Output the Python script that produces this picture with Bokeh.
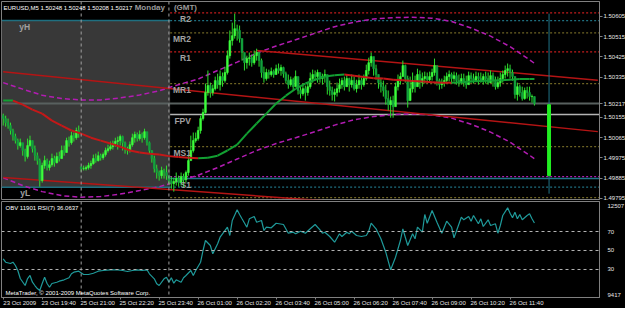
from bokeh.plotting import figure
from bokeh.layouts import column
from bokeh.models import (Range1d, FixedTicker, PrintfTickFormatter, Label, ColumnDataSource, Span,
                          LinearAxis)
from bokeh.embed import file_html
from bokeh.resources import INLINE
from bokeh.core.properties import value

# ---------------- data ----------------
symbol = "EURUSD,M5"
last_ohlc = [1.50248, 1.50248, 1.50208, 1.50217]
weekday_text = "Monday"
tz_text = "(GMT)"

closes = [
    1.50150, 1.50132, 1.50119, 1.50097, 1.50070, 1.50052, 1.50030, 1.50043, 1.50008, 1.49981,
    1.50030, 1.50052, 1.50016, 1.49985, 1.49963, 1.49874, 1.49941, 1.49963, 1.49932, 1.49945,
    1.49972, 1.49954, 1.49981, 1.49972, 1.50008, 1.49999, 1.50052, 1.50043, 1.50074, 1.50065,
    1.50097, 1.50083, 1.49927, 1.49927, 1.49932, 1.49941, 1.49950, 1.49972, 1.49963, 1.49985,
    1.49976, 1.49990, 1.50008, 1.50016, 1.50025, 1.50039, 1.50048, 1.50052, 1.50070, 1.50043,
    1.50016, 1.50008, 1.50034, 1.50065, 1.50079, 1.50061, 1.50079, 1.50065, 1.50092, 1.50043,
    1.50008, 1.49972, 1.49927, 1.49910, 1.49896, 1.49919, 1.49910, 1.49896, 1.49874, 1.49861,
    1.49870, 1.49883, 1.49865, 1.49892, 1.49878, 1.49910, 1.49963, 1.50008, 1.50052, 1.50061,
    1.50097, 1.50150, 1.50177, 1.50266, 1.50297, 1.50266, 1.50283, 1.50319, 1.50301, 1.50337,
    1.50319, 1.50355, 1.50430, 1.50497, 1.50519, 1.50550, 1.50542, 1.50506, 1.50444, 1.50399,
    1.50417, 1.50421, 1.50399, 1.50430, 1.50444, 1.50408, 1.50355, 1.50328, 1.50355, 1.50346,
    1.50359, 1.50346, 1.50372, 1.50364, 1.50377, 1.50350, 1.50319, 1.50301, 1.50323, 1.50292,
    1.50337, 1.50275, 1.50261, 1.50283, 1.50266, 1.50292, 1.50328, 1.50346, 1.50337, 1.50355,
    1.50328, 1.50337, 1.50346, 1.50292, 1.50275, 1.50257, 1.50266, 1.50283, 1.50301, 1.50319,
    1.50292, 1.50328, 1.50301, 1.50319, 1.50283, 1.50301, 1.50319, 1.50301, 1.50328, 1.50364,
    1.50399, 1.50426, 1.50372, 1.50346, 1.50310, 1.50292, 1.50275, 1.50239, 1.50212, 1.50230,
    1.50203, 1.50292, 1.50319, 1.50337, 1.50386, 1.50328, 1.50230, 1.50283, 1.50319, 1.50292,
    1.50346, 1.50310, 1.50328, 1.50337, 1.50323, 1.50337, 1.50355, 1.50386, 1.50319, 1.50301,
    1.50310, 1.50319, 1.50337, 1.50346, 1.50328, 1.50341, 1.50319, 1.50310, 1.50328, 1.50310,
    1.50301, 1.50341, 1.50328, 1.50319, 1.50337, 1.50328, 1.50319, 1.50337, 1.50328, 1.50310,
    1.50341, 1.50319, 1.50292, 1.50310, 1.50328, 1.50346, 1.50364, 1.50372, 1.50355, 1.50337,
    1.50257, 1.50292, 1.50266, 1.50239, 1.50275, 1.50266, 1.50248, 1.50248, 1.50217,
]
highs = [
    1.50172, 1.50163, 1.50150, 1.50132, 1.50105, 1.50083, 1.50061, 1.50061, 1.50039, 1.50016,
    1.50061, 1.50074, 1.50052, 1.50030, 1.49999, 1.49972, 1.49954, 1.49985, 1.49972, 1.49963,
    1.49994, 1.49985, 1.49999, 1.50003, 1.50030, 1.50030, 1.50065, 1.50070, 1.50092, 1.50088,
    1.50110, 1.50119, 1.49936, 1.49941, 1.49941, 1.49954, 1.49963, 1.49990, 1.49994, 1.50003,
    1.49994, 1.49999, 1.50021, 1.50034, 1.50048, 1.50052, 1.50065, 1.50070, 1.50079, 1.50074,
    1.50048, 1.50025, 1.50048, 1.50083, 1.50092, 1.50088, 1.50097, 1.50088, 1.50105, 1.50083,
    1.50048, 1.50008, 1.49985, 1.49945, 1.49919, 1.49936, 1.49927, 1.49941, 1.49896, 1.49892,
    1.49887, 1.49910, 1.49896, 1.49910, 1.49905, 1.49919, 1.49985, 1.50074, 1.50088, 1.50088,
    1.50114, 1.50163, 1.50194, 1.50306, 1.50364, 1.50310, 1.50301, 1.50337, 1.50350, 1.50364,
    1.50355, 1.50381, 1.50453, 1.50542, 1.50577, 1.50617, 1.50568, 1.50564, 1.50506, 1.50430,
    1.50430, 1.50444, 1.50435, 1.50453, 1.50461, 1.50444, 1.50417, 1.50381, 1.50372, 1.50368,
    1.50377, 1.50368, 1.50390, 1.50395, 1.50390, 1.50381, 1.50359, 1.50346, 1.50337, 1.50332,
    1.50364, 1.50323, 1.50292, 1.50306, 1.50297, 1.50310, 1.50355, 1.50368, 1.50364, 1.50368,
    1.50355, 1.50350, 1.50368, 1.50341, 1.50319, 1.50292, 1.50283, 1.50310, 1.50328, 1.50332,
    1.50337, 1.50346, 1.50332, 1.50346, 1.50337, 1.50323, 1.50346, 1.50332, 1.50346, 1.50390,
    1.50421, 1.50444, 1.50417, 1.50390, 1.50346, 1.50332, 1.50319, 1.50301, 1.50275, 1.50248,
    1.50252, 1.50310, 1.50346, 1.50355, 1.50408, 1.50390, 1.50341, 1.50337, 1.50355, 1.50341,
    1.50372, 1.50364, 1.50355, 1.50359, 1.50355, 1.50359, 1.50372, 1.50417, 1.50364, 1.50328,
    1.50328, 1.50341, 1.50355, 1.50364, 1.50355, 1.50359, 1.50355, 1.50346, 1.50350, 1.50350,
    1.50341, 1.50359, 1.50355, 1.50350, 1.50359, 1.50355, 1.50355, 1.50350, 1.50359, 1.50355,
    1.50364, 1.50355, 1.50337, 1.50337, 1.50355, 1.50364, 1.50386, 1.50395, 1.50390, 1.50368,
    1.50337, 1.50310, 1.50301, 1.50292, 1.50288, 1.50292, 1.50292, 1.50257, 1.50248,
]
lows = [
    1.50119, 1.50114, 1.50105, 1.50079, 1.50052, 1.50039, 1.50012, 1.50021, 1.49985, 1.49959,
    1.49972, 1.50025, 1.49999, 1.49963, 1.49945, 1.49847, 1.49865, 1.49927, 1.49919, 1.49919,
    1.49936, 1.49936, 1.49950, 1.49959, 1.49972, 1.49985, 1.49999, 1.50025, 1.50034, 1.50048,
    1.50056, 1.50065, 1.49914, 1.49919, 1.49919, 1.49923, 1.49927, 1.49945, 1.49954, 1.49959,
    1.49963, 1.49967, 1.49981, 1.49999, 1.50008, 1.50012, 1.50025, 1.50012, 1.50030, 1.50008,
    1.49994, 1.49990, 1.49999, 1.50025, 1.50043, 1.50048, 1.50052, 1.50043, 1.50056, 1.50030,
    1.49994, 1.49954, 1.49910, 1.49883, 1.49874, 1.49883, 1.49883, 1.49878, 1.49856, 1.49838,
    1.49825, 1.49852, 1.49847, 1.49852, 1.49843, 1.49865, 1.49896, 1.49963, 1.49999, 1.50043,
    1.50052, 1.50083, 1.50141, 1.50172, 1.50252, 1.50243, 1.50252, 1.50275, 1.50283, 1.50275,
    1.50292, 1.50310, 1.50346, 1.50417, 1.50475, 1.50506, 1.50497, 1.50488, 1.50408, 1.50364,
    1.50372, 1.50386, 1.50381, 1.50390, 1.50408, 1.50381, 1.50332, 1.50310, 1.50319, 1.50328,
    1.50337, 1.50332, 1.50346, 1.50350, 1.50341, 1.50332, 1.50306, 1.50283, 1.50292, 1.50275,
    1.50301, 1.50257, 1.50239, 1.50252, 1.50230, 1.50252, 1.50283, 1.50310, 1.50319, 1.50310,
    1.50310, 1.50301, 1.50310, 1.50257, 1.50252, 1.50230, 1.50226, 1.50248, 1.50266, 1.50283,
    1.50275, 1.50292, 1.50270, 1.50288, 1.50275, 1.50266, 1.50283, 1.50279, 1.50292, 1.50319,
    1.50346, 1.50381, 1.50341, 1.50323, 1.50283, 1.50266, 1.50248, 1.50212, 1.50186, 1.50154,
    1.50154, 1.50230, 1.50275, 1.50301, 1.50337, 1.50310, 1.50199, 1.50230, 1.50266, 1.50266,
    1.50292, 1.50283, 1.50292, 1.50306, 1.50310, 1.50315, 1.50319, 1.50341, 1.50297, 1.50279,
    1.50283, 1.50292, 1.50306, 1.50315, 1.50306, 1.50315, 1.50301, 1.50292, 1.50301, 1.50292,
    1.50283, 1.50310, 1.50310, 1.50306, 1.50315, 1.50301, 1.50310, 1.50301, 1.50306, 1.50301,
    1.50310, 1.50292, 1.50279, 1.50283, 1.50292, 1.50310, 1.50328, 1.50337, 1.50328, 1.50319,
    1.50239, 1.50230, 1.50248, 1.50230, 1.50234, 1.50239, 1.50230, 1.50221, 1.50208,
]
first_open = 1.50163
gap_bar = 32            # Sunday re-open bar
gap_open = 1.49936

# moving average (coloured by direction)
ma_bars = list(range(0, 217, 4)) + [218]
ma_vals = [
    1.50230, 1.50230, 1.50212, 1.50190, 1.50172, 1.50141, 1.50119, 1.50097, 1.50083, 1.50065,
    1.50052, 1.50039, 1.50025, 1.50008, 1.49999, 1.49994, 1.49990, 1.49983, 1.49979, 1.49976,
    1.49974, 1.49976, 1.49985, 1.50008, 1.50034, 1.50083, 1.50128, 1.50172, 1.50217, 1.50252,
    1.50283, 1.50306, 1.50323, 1.50337, 1.50343, 1.50346, 1.50341, 1.50335, 1.50330, 1.50328,
    1.50323, 1.50321, 1.50317, 1.50315, 1.50312, 1.50310, 1.50309, 1.50312, 1.50315, 1.50317,
    1.50319, 1.50321, 1.50323, 1.50326, 1.50326, 1.50326,
]

# polynomial regression channel bands
reg_bars = list(range(0, 217, 8)) + [218]
reg_upper = [
    1.50310, 1.50281, 1.50254, 1.50239, 1.50233, 1.50233, 1.50242, 1.50255, 1.50274, 1.50301,
    1.50326, 1.50364, 1.50401, 1.50441, 1.50473, 1.50501, 1.50530, 1.50559, 1.50579, 1.50593,
    1.50599, 1.50601, 1.50597, 1.50582, 1.50553, 1.50517, 1.50470, 1.50412, 1.50396,
]
reg_lower = [
    1.49887, 1.49852, 1.49825, 1.49807, 1.49800, 1.49803, 1.49814, 1.49830, 1.49847, 1.49872,
    1.49898, 1.49932, 1.49970, 1.50008, 1.50039, 1.50065, 1.50092, 1.50121, 1.50145, 1.50159,
    1.50168, 1.50171, 1.50166, 1.50152, 1.50125, 1.50090, 1.50045, 1.49987, 1.49971,
]

# trend lines (start bar, end bar, start price, end price)
trend_x0 = [104, 0, 0]
trend_x1 = [244, 244, 244]
trend_y0 = [1.50453, 1.50358, 1.49888]
trend_y1 = [1.50321, 1.50092, 1.49696]

# pivot levels for Monday
pivot_names = ["R2", "MR2", "R1", "MR1", "FPV", "MS1", "S1", "MS2"]
pivot_levels = [1.50620, 1.50531, 1.50447, 1.50306, 1.50168, 1.50025, 1.49883, 1.49798]
pivot_colors = ["#c41c1c", "#6e6424", "#c41c1c", "#6e6424", "#b4b4b4", "#6e6424", "#1f7487", "#6e6424"]
pivot_dash = ["2 2", "2 2", "2 2", "2 2", "solid", "2 2", "solid", "2 2"]
pivot_label_names = ["R2", "MR2", "R1", "MR1", "FPV", "MS1", "S1"]

y_high = 1.50586
y_low = 1.49845
y_close_level = 1.49892
day_start = 68
separators = [32, 68]
bid = 1.50217

marker_bar = 224
marker_top, marker_bottom = 1.50617, 1.49816
gauge_top, gauge_bottom = 1.50212, 1.49896

price_ticks = [1.49795, 1.49885, 1.49975, 1.50065, 1.50155, 1.50245, 1.50335, 1.50425, 1.50515, 1.50605]

# indicator window: OBV line, RSI levels
obv_bars = [0, 1, 3, 4, 5, 6, 7, 9, 10, 11, 12, 13, 14, 15, 16, 17, 18, 19, 20, 22,
            23, 25, 27, 28, 29, 31, 33, 35, 37, 39, 41, 44, 47, 49, 51, 53, 55, 57, 59, 60,
            62, 63, 64, 66, 67, 68, 69, 70, 71, 73, 74, 75, 77, 78, 79, 81, 82, 83, 85, 86,
            88, 89, 90, 92, 93, 94, 96, 97, 98, 100, 101, 103, 104, 106, 107, 108, 110, 112, 115, 117,
            119, 120, 122, 124, 126, 128, 130, 131, 132, 134, 136, 138, 139, 141, 142, 143, 145, 147, 149, 150,
            151, 153, 155, 157, 159, 161, 163, 164, 165, 166, 168, 169, 170, 172, 173, 174, 176, 178, 180, 182,
            184, 185, 188, 189, 191, 192, 193, 195, 196, 197, 199, 200, 202, 203, 204, 205, 207, 208, 209, 210,
            211, 212, 213, 215, 216, 217, 218]
obv_vals = [10656, 10538, 10493, 10538, 10424, 10250, 9972, 9729, 9972, 10077, 9844, 9729, 9625, 9556, 9799, 10018, 9799, 9670, 9799, 9844,
            9879, 9927, 9997, 10136, 10191, 10226, 10111, 10111, 10156, 10226, 10250, 10275, 10275, 10250, 10215, 10250, 10275, 10250, 10275, 10136,
            9962, 9788, 9729, 9962, 10018, 9844, 9997, 9809, 9927, 9844, 9997, 10077, 10250, 10077, 10250, 10538, 10945, 11292, 11118, 10830,
            11177, 11406, 11524, 11754, 11465, 11986, 12358, 12195, 12045, 11754, 12045, 12125, 11927, 11986, 11639, 11754, 11733, 11892, 11847, 11545,
            11580, 11524, 11615, 11545, 11698, 11847, 11663, 11545, 11580, 11431, 11233, 11524, 11431, 11580, 11524, 11615, 11465, 11431, 11465, 11615,
            11892, 11698, 11351, 10886, 10275, 10712, 11292, 11698, 11406, 11118, 11524, 11351, 11754, 11580, 12195, 11892, 12333, 11927, 11545, 11962,
            11754, 11386, 12101, 12010, 12125, 11962, 12160, 11872, 12045, 11778, 12010, 11813, 11872, 11545, 11813, 12160, 12427, 12240, 12080, 12274,
            12045, 12195, 12010, 12160, 12219, 12045, 11901]
obv_min, obv_max = 9417, 12507
obv_last = 11901
rsi_period = 7
rsi_last = 36.0637
rsi_levels = [70, 50, 30]
copyright_text = "MetaTrader, \u00a9 2001-2009 MetaQuotes Software Corp."

time_tick_bars = [0, 16, 32, 48, 64, 80, 96, 112, 128, 144, 160, 176, 192, 208]
time_tick_labels = ["23 Oct 2009", "23 Oct 19:40", "25 Oct 21:00", "25 Oct 22:20", "25 Oct 23:40",
                    "26 Oct 01:00", "26 Oct 02:20", "26 Oct 03:40", "26 Oct 05:00", "26 Oct 06:20",
                    "26 Oct 07:40", "26 Oct 09:00", "26 Oct 10:20", "26 Oct 11:40"]

# ---------------- view ranges ----------------
x_start, x_end = -0.7, 244.7
p_lo, p_hi = 1.49790, 1.50671
obv_lo, obv_hi = 9313, 12646
rsi_lo, rsi_hi = 0.5, 101.6

FONT = "Liberation Sans"
SMALL_SIZE = "6px"
FRAME_W = 598
GRID = "#808080"
px_per_bar = FRAME_W / (x_end - x_start)

# ---------------- main price window ----------------
p1 = figure(frame_width=FRAME_W, frame_height=198,
            x_range=Range1d(x_start, x_end), y_range=Range1d(p_lo, p_hi),
            x_axis_location=None, y_axis_location="right",
            output_backend="svg", toolbar_location=None,
            background_fill_color="black", border_fill_color="black",
            outline_line_color=GRID, min_border_left=1, min_border_right=0,
            min_border_top=1, min_border_bottom=2)
p1.grid.visible = False

axis_ticks = [t for t in price_ticks if abs(t - bid) > 0.0004] + [bid]
ya = p1.yaxis[0]
ya.ticker = FixedTicker(ticks=axis_ticks)
ya.formatter = PrintfTickFormatter(format="%.5f")
ya.major_label_text_color = "#e6e6e6"
ya.major_label_text_font = FONT
ya.major_label_text_font_size = SMALL_SIZE
ya.axis_line_color = GRID
ya.major_tick_line_color = GRID
ya.major_tick_out = 3
ya.major_tick_in = 0
ya.minor_tick_line_color = None
ya.major_label_standoff = 1

# yesterday shading
p1.quad(left=[x_start], right=[day_start + 0.5], bottom=[y_low], top=[y_high],
        fill_color="#383838", line_color=None)
# yesterday high/low: solid over yesterday, dotted afterwards
p1.segment(x0=[x_start, x_start], x1=[day_start + 0.5] * 2, y0=[y_high, y_low], y1=[y_high, y_low],
           line_color="#1f6f80", line_width=1.5)
p1.segment(x0=[day_start + 0.5] * 2, x1=[x_end] * 2, y0=[y_high, y_low], y1=[y_high, y_low],
           line_color="#1f6f80", line_width=1.2, line_dash="2 2")
p1.segment(x0=[day_start + 0.5], x1=[x_end], y0=[y_close_level], y1=[y_close_level],
           line_color="#b01cb0", line_width=1.2, line_dash="2 2")

for b in separators:
    p1.add_layout(Span(location=b, dimension="height", line_color="#a0a0a0",
                       line_dash="3 3", line_width=1))

# pivot lines
for lvl, col, dash in zip(pivot_levels, pivot_colors, pivot_dash):
    p1.segment(x0=[day_start + 0.5], x1=[x_end], y0=[lvl], y1=[lvl],
               line_color=col, line_width=1.3 if dash != "solid" else 1.5, line_dash=dash)

# bid line
p1.segment(x0=[x_start], x1=[x_end], y0=[bid], y1=[bid], line_color="#58605f", line_width=2)

# regression channel
p1.line(reg_bars, reg_upper, line_color="#b21cb2", line_width=1.5, line_dash="5 3")
p1.line(reg_bars, reg_lower, line_color="#b21cb2", line_width=1.5, line_dash="5 3")

# trend lines
p1.segment(x0=trend_x0, x1=trend_x1, y0=trend_y0, y1=trend_y1, line_color="#b41414", line_width=1.5)

# candles
opens = [first_open] + closes[:-1]
opens[gap_bar] = gap_open
bars = list(range(len(closes)))
bull = [c >= o for o, c in zip(opens, closes)]
src = ColumnDataSource(dict(
    x=bars, h=highs, l=lows,
    top=[max(o, c) for o, c in zip(opens, closes)],
    bottom=[min(o, c) for o, c in zip(opens, closes)],
    color=["#3cff3c" if u else "#12a23e" for u in bull],
))
p1.segment(x0="x", x1="x", y0="h", y1="l", source=src, line_color="#2ee02e", line_width=1)
p1.vbar(x="x", top="top", bottom="bottom", width=0.72, source=src,
        fill_color="color", line_color="color", line_width=0.6)

# direction-coloured moving average
ma_cols = ["#12a032" if b2 >= a2 else "#c41818" for a2, b2 in zip(ma_vals[:-1], ma_vals[1:])]
p1.segment(x0=ma_bars[:-1], x1=ma_bars[1:], y0=ma_vals[:-1], y1=ma_vals[1:],
           line_color=ma_cols, line_width=2)

# marker line and gauge bar
p1.segment(x0=[marker_bar], x1=[marker_bar], y0=[marker_bottom], y1=[marker_top],
           line_color="#1f7487", line_width=1)
p1.vbar(x=[marker_bar], top=[gauge_top], bottom=[gauge_bottom], width=1.2,
        fill_color="#22ee22", line_color="#22ee22")

# labels
p1.text(x=[day_start] * len(pivot_label_names), y=pivot_levels[:len(pivot_label_names)],
        text=pivot_label_names, x_offset=22, y_offset=1, text_align="right", text_baseline="top",
        text_color="#a0a0a0", text_font=value(FONT), text_font_size="8.5px", text_font_style="bold")
p1.text(x=[0, 0], y=[y_high, y_low], text=["yH", "yL"], x_offset=27, y_offset=1,
        text_align="right", text_baseline="top", text_color="#a0a0a0",
        text_font=value(FONT), text_font_size="8.5px", text_font_style="bold")

header = symbol + "  " + " ".join(f"{v:.5f}" for v in last_ohlc)
p1.add_layout(Label(x=x_start, y=p_hi, x_offset=2, y_offset=-3, text=header,
                    text_baseline="top", text_color="white", text_font=FONT, text_font_size=SMALL_SIZE))
p1.add_layout(Label(x=day_start, y=p_hi, x_offset=-4, y_offset=-1, text=weekday_text,
                    text_align="right", text_baseline="top", text_color="#9a9a9a",
                    text_font=FONT, text_font_size="8px", text_font_style="bold"))
p1.add_layout(Label(x=day_start, y=p_hi, x_offset=5, y_offset=-1, text=tz_text,
                    text_align="left", text_baseline="top", text_color="#9a9a9a",
                    text_font=FONT, text_font_size="8px", text_font_style="bold"))

# ---------------- indicator window ----------------
p2 = figure(frame_width=FRAME_W, frame_height=96,
            x_range=p1.x_range, y_range=Range1d(obv_lo, obv_hi),
            x_axis_location="below", y_axis_location="right",
            output_backend="svg", toolbar_location=None,
            background_fill_color="black", border_fill_color="black",
            outline_line_color=GRID, min_border_left=1, min_border_right=0,
            min_border_top=0, min_border_bottom=0)
p2.grid.visible = False
p2.extra_y_ranges = {"rsi": Range1d(rsi_lo, rsi_hi)}


def rsi_to_obv(r):
    return obv_lo + (r - rsi_lo) / (rsi_hi - rsi_lo) * (obv_hi - obv_lo)


level_pos = [round(rsi_to_obv(r)) for r in rsi_levels]
ya2 = p2.yaxis[0]
ya2.ticker = FixedTicker(ticks=[obv_min] + level_pos + [obv_max])
overrides = {obv_min: str(obv_min), obv_max: str(obv_max)}
for pos, r in zip(level_pos, rsi_levels):
    overrides[pos] = str(r)
ya2.major_label_overrides = overrides
ya2.major_label_text_color = "#e6e6e6"
ya2.major_label_text_font = FONT
ya2.major_label_text_font_size = SMALL_SIZE
ya2.axis_line_color = GRID
ya2.major_tick_line_color = None
ya2.minor_tick_line_color = None
ya2.major_label_standoff = 2

# time axis: tick marks on the first axis, labels (starting at each tick) on a second one
xa = p2.xaxis[0]
xa.ticker = FixedTicker(ticks=time_tick_bars)
xa.major_label_text_font_size = "0px"
xa.major_label_text_color = None
xa.axis_line_color = GRID
xa.major_tick_line_color = GRID
xa.major_tick_out = 2
xa.major_tick_in = 0
xa.minor_tick_line_color = None
xa.major_label_standoff = 0

label_half_width_px = 16.5
label_pos = [b + label_half_width_px / px_per_bar for b in time_tick_bars]
xl = LinearAxis(ticker=FixedTicker(ticks=label_pos),
                major_label_overrides=dict(zip(label_pos, time_tick_labels)),
                major_label_text_color="#e6e6e6", major_label_text_font=FONT,
                major_label_text_font_size=SMALL_SIZE, axis_line_color=None,
                major_tick_line_color=None, minor_tick_line_color=None,
                major_tick_out=0, major_tick_in=0, major_label_standoff=0)
p2.add_layout(xl, "below")

for r in rsi_levels:
    p2.add_layout(Span(location=r, dimension="width", y_range_name="rsi",
                       line_color="#b4b4b4", line_dash="3 3", line_width=1))
for b in separators:
    p2.add_layout(Span(location=b, dimension="height", line_color="#a0a0a0",
                       line_dash="3 3", line_width=1))

p2.line(obv_bars, obv_vals, line_color="#1f9a9a", line_width=1.2)

p2.add_layout(Label(x=x_start, y=obv_hi, x_offset=4, y_offset=-3,
                    text=f"OBV {obv_last}  RSI({rsi_period}) {rsi_last:.4f}",
                    text_baseline="top", text_color="white", text_font=FONT, text_font_size=SMALL_SIZE))
p2.add_layout(Label(x=x_start, y=obv_lo, x_offset=4, y_offset=2, text=copyright_text,
                    text_baseline="bottom", text_color="white", text_font=FONT, text_font_size=SMALL_SIZE))

layout = column(p1, p2, spacing=0, background="black")
open("out.html", "w").write(file_html(layout, INLINE))
